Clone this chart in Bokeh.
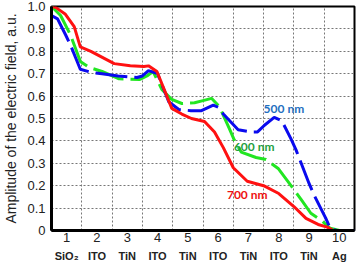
from bokeh.plotting import figure
from bokeh.models import LinearAxis, FixedTicker, Range1d, ColumnDataSource
from bokeh.core.properties import value
from bokeh.embed import file_html
from bokeh.resources import INLINE

# layer boundaries and labels
layer_numbers = ["1", "2", "3", "4", "5", "6", "7", "8", "9", "10"]
layer_materials = ["SiO\u2082", "ITO", "TiN", "ITO", "TiN", "ITO", "TiN", "ITO", "TiN", "Ag"]
y_ticks = [0, 0.1, 0.2, 0.3, 0.4, 0.5, 0.6, 0.7, 0.8, 0.9, 1.0]
y_tick_labels = ["0", "0.1", "0.2", "0.3", "0.4", "0.5", "0.6", "0.7", "0.8", "0.9", "1.0"]

# 700 nm (red)
x_700 = [0, 0.15, 0.46, 0.75, 0.95, 1.3, 2.07, 2.6, 3.05, 3.2, 3.48, 3.97, 4.3, 4.62, 5.05, 5.38, 5.67, 6.0, 6.46, 7.0, 7.5, 8.0, 8.4, 8.8, 9.1, 9.3, 9.6]
y_700 = [1.0, 0.995, 0.965, 0.91, 0.82, 0.80, 0.745, 0.735, 0.732, 0.735, 0.71, 0.545, 0.52, 0.50, 0.487, 0.44, 0.37, 0.28, 0.22, 0.20, 0.165, 0.107, 0.054, 0.027, 0.015, 0.0, 0.0]

# 600 nm (green)
x_600 = [0, 0.3, 0.62, 0.8, 0.95, 1.25, 1.67, 2.23, 2.9, 3.15, 3.35, 3.64, 3.97, 4.3, 4.72, 5.0, 5.28, 5.54, 5.87, 6.03, 6.26, 6.75, 7.08, 7.48, 8.0, 8.23, 8.56, 8.95, 9.2, 9.5, 10]
y_600 = [1.0, 0.96, 0.875, 0.81, 0.755, 0.728, 0.71, 0.677, 0.674, 0.69, 0.71, 0.63, 0.585, 0.567, 0.57, 0.58, 0.59, 0.553, 0.455, 0.405, 0.35, 0.326, 0.317, 0.277, 0.183, 0.14, 0.077, 0.04, 0.01, 0.0, 0.0]

# 500 nm (blue)
x_500 = [0, 0.2, 0.46, 0.62, 0.8, 0.95, 1.34, 1.67, 2.2, 2.82, 3.0, 3.2, 3.5, 3.87, 4.2, 4.6, 4.95, 5.34, 5.5, 5.67, 6.16, 6.6, 6.8, 7.03, 7.35, 7.6, 7.9, 8.07, 8.5, 8.66, 9.05, 9.2, 9.4, 10]
y_500 = [0.96, 0.945, 0.875, 0.83, 0.77, 0.72, 0.705, 0.70, 0.69, 0.683, 0.69, 0.714, 0.70, 0.575, 0.54, 0.535, 0.535, 0.56, 0.55, 0.52, 0.45, 0.44, 0.44, 0.47, 0.505, 0.49, 0.41, 0.36, 0.21, 0.16, 0.055, 0.01, 0.0, 0.0]

label_text = ["500 nm", "600 nm", "700 nm"]
label_x = [7.67, 6.69, 6.46]
label_y = [0.545, 0.375, 0.16]
label_color = ["#1f6fc0", "#1fa040", "#ee1111"]

p = figure(width=358, height=264, output_backend="svg", toolbar_location=None,
           x_range=Range1d(0, 10), y_range=Range1d(0, 1.0),
           min_border_left=49, min_border_right=4, min_border_top=6, min_border_bottom=0)
p.background_fill_color = "white"
p.border_fill_color = "white"
p.outline_line_color = "black"
p.outline_line_width = 2

# grids
p.xgrid.ticker = FixedTicker(ticks=list(range(1, 10)))
p.ygrid.ticker = FixedTicker(ticks=y_ticks[1:-1])
for g in (p.xgrid, p.ygrid):
    g.grid_line_color = "#777777"
    g.grid_line_dash = "2 2"
    g.grid_line_width = 1

# y axis
ya = p.yaxis[0]
ya.ticker = FixedTicker(ticks=y_ticks)
ya.major_label_overrides = {t: l for t, l in zip(y_ticks, y_tick_labels)}
ya.axis_label = "Amplitude of the electric field, a.u."
ya.axis_label_text_font = "Liberation Sans"
ya.axis_label_text_font_style = "normal"
ya.axis_label_text_font_size = "14px"
ya.axis_label_text_color = "#222222"
ya.axis_label_standoff = 5
ya.major_label_text_font = "Liberation Sans"
ya.major_label_text_font_size = "13px"
ya.major_label_text_color = "#222222"
ya.major_label_standoff = 6
ya.major_tick_line_color = None
ya.minor_tick_line_color = None
ya.major_tick_out = 0
ya.major_tick_in = 0
ya.minor_tick_out = 0
ya.minor_tick_in = 0
ya.axis_line_width = 3
ya.axis_line_color = "black"

# x axis: layer numbers
centers = [i + 0.5 for i in range(10)]
xa = p.xaxis[0]
xa.ticker = FixedTicker(ticks=centers)
xa.major_label_overrides = {c: n for c, n in zip(centers, layer_numbers)}
xa.major_label_text_font = "Liberation Sans"
xa.major_label_text_font_size = "13px"
xa.major_label_text_color = "#222222"
xa.major_label_standoff = 2
xa.major_tick_line_color = None
xa.minor_tick_line_color = None
xa.major_tick_out = 0
xa.major_tick_in = 0
xa.minor_tick_out = 0
xa.minor_tick_in = 0
xa.axis_line_width = 3
xa.axis_line_color = "black"

# x axis: materials
xm = LinearAxis(ticker=FixedTicker(ticks=centers),
                major_label_overrides={c: m for c, m in zip(centers, layer_materials)})
xm.major_label_text_font = "Liberation Sans"
xm.major_label_text_font_style = "bold"
xm.major_label_text_font_size = "11px"
xm.major_label_text_color = "#222222"
xm.major_label_standoff = 5
xm.major_tick_line_color = None
xm.minor_tick_line_color = None
xm.major_tick_out = 0
xm.major_tick_in = 0
xm.minor_tick_out = 0
xm.minor_tick_in = 0
xm.axis_line_color = None
p.add_layout(xm, "below")

# curves
p.line(x_600, y_600, line_color="#22e622", line_width=3, line_dash="32 7")
p.line(x_500, y_500, line_color="#0a0aee", line_width=3, line_dash="32 7")
p.line(x_700, y_700, line_color="#ff1111", line_width=3)

src = ColumnDataSource(dict(x=label_x, y=label_y, t=label_text, c=label_color))
p.text(x="x", y="y", text="t", text_color="c", source=src,
       text_font=value("Lato"), text_font_style="bold", text_font_size="12px",
       text_align="center", text_baseline="middle")

open("out.html", "w").write(file_html(p, INLINE))
